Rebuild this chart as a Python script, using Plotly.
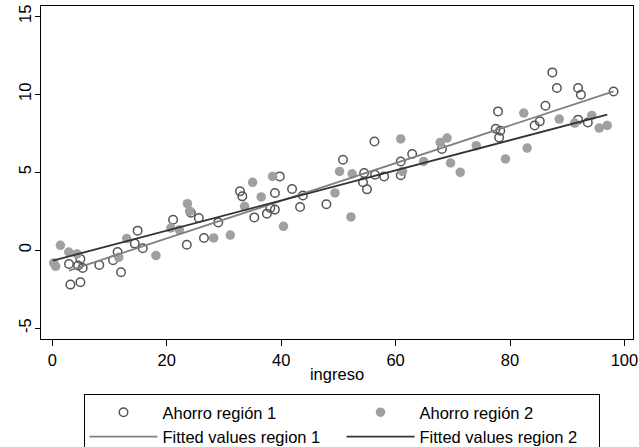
import plotly.graph_objects as go

# Region 1 (hollow circles)
ingreso_r1 = [2.9, 3.15, 4.5, 4.9, 4.9, 5.3, 8.2, 10.6, 11.4, 12.0, 14.4, 14.9, 15.8,
              21.1, 23.5, 24.2, 25.6, 26.5, 29.0, 32.8, 33.2, 35.3, 37.5, 38.1, 38.9,
              38.9, 39.75, 41.9, 43.3, 43.8, 47.9, 50.8, 54.3, 54.5, 55.0, 56.3, 56.4,
              58.0, 60.9, 60.9, 62.9, 68.1, 77.5, 77.9, 78.1, 78.3, 84.3, 85.2, 86.2,
              87.4, 88.2, 91.9, 91.9, 92.4, 93.6, 98.1]
ahorro_r1 = [-0.89, -2.21, -0.99, -0.57, -2.06, -1.14, -0.95, -0.65, -0.12, -1.42, 0.42, 1.25, 0.12,
             1.95, 0.35, 2.40, 2.06, 0.78, 1.78, 3.77, 3.45, 2.10, 2.34, 2.70, 2.60,
             3.67, 4.73, 3.92, 2.77, 3.51, 2.94, 5.80, 4.35, 4.95, 3.90, 6.97, 4.84,
             4.73, 5.69, 4.80, 6.17, 6.49, 7.79, 8.90, 7.23, 7.66, 8.00, 8.26, 9.26,
             11.4, 10.4, 10.4, 8.37, 9.97, 8.19, 10.18]

# Region 2 (filled circles)
ingreso_r2 = [0.23, 0.58, 1.4, 2.86, 4.3, 11.6, 13.0, 18.1, 20.7, 22.2, 23.6, 24.0,
              28.2, 31.1, 33.6, 35.0, 36.5, 38.5, 40.4, 49.4, 50.2, 52.2, 52.4, 60.9,
              61.2, 64.9, 67.8, 69.0, 69.6, 71.3, 74.1, 79.2, 82.4, 83.0, 88.6, 91.3,
              94.3, 95.6, 97.0]
ahorro_r2 = [-0.82, -1.04, 0.31, -0.12, -0.24, -0.46, 0.74, -0.35, 1.42, 1.30, 2.98, 2.50,
             0.78, 0.97, 2.81, 4.35, 3.41, 4.73, 1.53, 3.67, 5.05, 2.13, 4.90, 7.13,
             5.05, 5.69, 6.91, 7.19, 5.59, 4.99, 6.70, 5.85, 8.79, 6.55, 8.41, 8.15,
             8.64, 7.83, 8.00]

# Fitted values
fit_x_r1 = [2.9, 98.1]
fit_y_r1 = [-1.31, 10.18]
fit_x_r2 = [0.1, 97.0]
fit_y_r2 = [-0.67, 8.69]

x_ticks = [0, 20, 40, 60, 80, 100]
x_tick_labels = ["0", "20", "40", "60", "80", "100"]
y_ticks = [-5, 0, 5, 10, 15]
y_tick_labels = ["-5", "0", "5", "10", "15"]

FONT = "Liberation Sans, Arial, sans-serif"

fig = go.Figure()
fig.add_trace(go.Scatter(
    x=ingreso_r1, y=ahorro_r1, mode="markers", name="Ahorro región 1",
    marker=dict(symbol="circle-open", size=8.5, color="rgb(85,85,85)", line=dict(width=1.5, color="rgb(85,85,85)"))))
fig.add_trace(go.Scatter(
    x=ingreso_r2, y=ahorro_r2, mode="markers", name="Ahorro región 2",
    marker=dict(symbol="circle", size=9.5, color="rgb(160,160,160)", line=dict(width=0))))
fig.add_trace(go.Scatter(
    x=fit_x_r1, y=fit_y_r1, mode="lines", name="Fitted values region 1",
    line=dict(color="rgb(128,128,128)", width=1.8)))
fig.add_trace(go.Scatter(
    x=fit_x_r2, y=fit_y_r2, mode="lines", name="Fitted values region 2",
    line=dict(color="rgb(50,50,50)", width=1.8)))

fig.update_layout(
    width=639, height=447,
    margin=dict(l=41, r=6, t=6, b=108, autoexpand=False),
    paper_bgcolor="white", plot_bgcolor="white",
    font=dict(family=FONT, size=16.5, color="black"),
    showlegend=True,
    legend=dict(
        orientation="h", x=0.0718, xanchor="left", y=-0.165, yanchor="top",
        bordercolor="black", borderwidth=1, bgcolor="white",
        entrywidth=174, entrywidthmode="pixels", itemwidth=68,
        font=dict(family=FONT, size=16.5, color="black"),
        traceorder="normal", tracegroupgap=0,
    ),
)
fig.update_xaxes(
    range=[-1.99, 101.5], tickvals=x_ticks, ticktext=x_tick_labels,
    ticks="outside", ticklen=6, tickwidth=1, automargin=False,
    ticklabeloverflow="allow",
    tickcolor="black", showline=True, linecolor="black", linewidth=1, mirror=True,
    showgrid=False, zeroline=False,
    title=dict(text="ingreso", font=dict(family=FONT, size=16.5), standoff=0),
    tickfont=dict(family=FONT, size=16.5),
)
fig.update_yaxes(
    range=[-5.70, 15.66], tickvals=y_ticks, ticktext=y_tick_labels,
    ticks="outside", ticklen=5, tickwidth=1, automargin=False,
    ticklabeloverflow="allow", ticklabelstandoff=-3,
    tickcolor="black", showline=True, linecolor="black", linewidth=1, mirror=True,
    showgrid=False, zeroline=False, tickangle=-90,
    tickfont=dict(family=FONT, size=16.5),
)

fig.write_html(
    "out.html",
    config={"displayModeBar": False},
    post_script="document.body.style.margin='0';document.body.style.overflow='hidden';",
)
